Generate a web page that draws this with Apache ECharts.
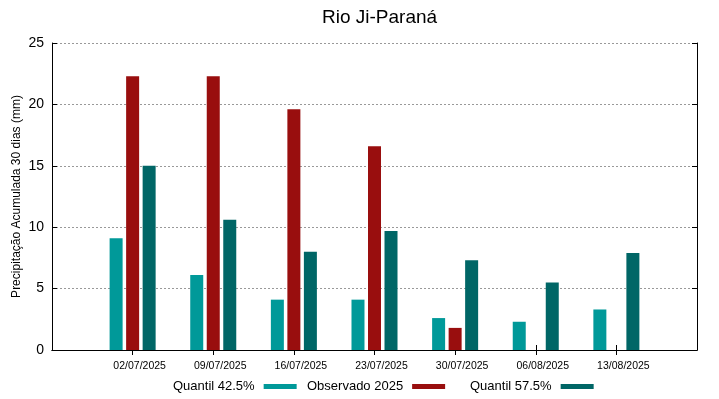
<!DOCTYPE html>
<html>
<head>
<meta charset="utf-8">
<script src="https://cdn.jsdelivr.net/npm/echarts@6/dist/echarts.min.js"></script>
<style>html,body{margin:0;padding:0;background:#fff}#c{width:719px;height:399px}</style>
</head>
<body>
<div id="c"></div>
<script>
const categories = ['02/07/2025','09/07/2025','16/07/2025','23/07/2025','30/07/2025','06/08/2025','13/08/2025'];
const quantil425 = [9.1, 6.1, 4.1, 4.1, 2.6, 2.3, 3.3];
const observado2025 = [22.3, 22.3, 19.6, 16.6, 1.8, null, null];
const quantil575 = [15.0, 10.6, 8.0, 9.7, 7.3, 5.5, 7.9];
const yTicks = [0, 5, 10, 15, 20, 25];

const font = 'Liberation Sans, Arial, sans-serif';
const pad = arr => [null].concat(arr, [null]);
const cats = [''].concat(categories, ['']);

const chart = echarts.init(document.getElementById('c'));
const legendBase = {
  orient: 'horizontal', top: 380, itemWidth: 33, itemHeight: 5, align: 'right',
  icon: 'rect', padding: 0,
  textStyle: {fontFamily: font, fontSize: 13, color: '#000', padding: [0, 4, 0, 0]}
};
const tickInterval = function(i){return i>0 && i<cats.length-1;};
chart.setOption({
  animation: false,
  backgroundColor: '#fff',
  title: {
    text: 'Rio Ji-Paraná', left: 317, top: 3,
    textStyle: {fontFamily: font, fontSize: 19, fontWeight: 'normal', color: '#000'}
  },
  legend: [
    Object.assign({}, legendBase, {left: 173, data: ['Quantil 42.5%']}),
    Object.assign({}, legendBase, {left: 307, data: ['Observado 2025']}),
    Object.assign({}, legendBase, {left: 470, data: ['Quantil 57.5%']})
  ],
  grid: {left: 52, right: 22, top: 43, bottom: 49, containLabel: false, outerBoundsMode: 'none'},
  xAxis: [{
    type: 'category', data: cats, boundaryGap: false,
    axisLine: {lineStyle: {color: '#000', width: 1}},
    axisTick: {inside: true, length: 5, interval: tickInterval, lineStyle: {color: '#000'}},
    axisLabel: {interval: 0, fontFamily: font, fontSize: 10.5, color: '#000', margin: 11, padding: [0, 0, 0, 14]},
    splitLine: {show: false}
  }, {
    type: 'category', data: cats, boundaryGap: false, position: 'top',
    axisLine: {lineStyle: {color: '#000', width: 1}},
    axisTick: {inside: true, length: 5, interval: tickInterval, lineStyle: {color: '#000'}},
    axisLabel: {show: false}
  }],
  yAxis: [{
    type: 'value', min: yTicks[0], max: yTicks[yTicks.length-1], interval: 5,
    name: 'Precipitação Acumulada 30 dias (mm)', nameLocation: 'middle', nameGap: 29,
    nameMoveOverlap: false,
    nameTextStyle: {fontFamily: font, fontSize: 12, color: '#000'},
    axisLine: {show: true, lineStyle: {color: '#000', width: 1}},
    axisTick: {show: true, inside: true, length: 5, lineStyle: {color: '#000'}},
    axisLabel: {fontFamily: font, fontSize: 14, color: '#000', margin: 8},
    splitLine: {show: true, lineStyle: {color: '#999', type: [2, 2], width: 1}}
  }, {
    type: 'value', min: yTicks[0], max: yTicks[yTicks.length-1], interval: 5, position: 'right',
    axisLine: {show: true, lineStyle: {color: '#000', width: 1}},
    axisTick: {show: true, inside: true, length: 5, lineStyle: {color: '#000'}},
    axisLabel: {show: false}, splitLine: {show: false}
  }],
  series: [
    {name: 'Quantil 42.5%', type: 'bar', data: pad(quantil425), barWidth: 13, barGap: '27%', itemStyle: {color: '#009999'}},
    {name: 'Observado 2025', type: 'bar', data: pad(observado2025), barWidth: 13, barGap: '27%', itemStyle: {color: '#990e0e'}},
    {name: 'Quantil 57.5%', type: 'bar', data: pad(quantil575), barWidth: 13, barGap: '27%', itemStyle: {color: '#006666'}}
  ]
});
</script>
</body>
</html>
